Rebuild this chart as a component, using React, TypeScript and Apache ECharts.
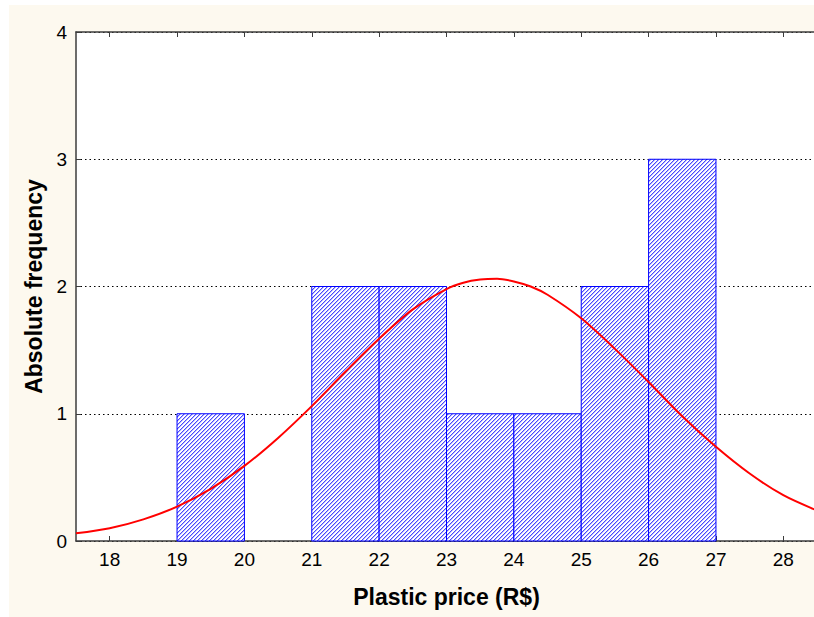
import React, { useEffect, useRef } from "react";
import * as echarts from "echarts";

// Histogram bins (lower edges) and counts
const binStarts = [19, 20, 21, 22, 23, 24, 25, 26];
const binWidth = 1;
const counts = [1, 0, 2, 2, 1, 1, 2, 3];

// Fitted normal curve
const curveX = [17.5, 18, 18.5, 19, 19.5, 20, 20.5, 21, 21.5, 22, 22.5, 23, 23.25, 23.5, 23.75, 24, 24.25, 24.5, 25, 25.5, 26, 26.5, 27, 27.5, 28, 28.5];
const curveY = [0.06, 0.1, 0.17, 0.27, 0.41, 0.59, 0.81, 1.06, 1.33, 1.59, 1.82, 1.98, 2.03, 2.055, 2.061, 2.04, 2.0, 1.935, 1.75, 1.51, 1.25, 0.98, 0.74, 0.53, 0.36, 0.24];

const xTicks = [18, 19, 20, 21, 22, 23, 24, 25, 26, 27, 28];
const yTicks = [0, 1, 2, 3, 4];

const FONT = "'Liberation Sans', Arial, sans-serif";
const AXIS_COLOR = "#3c3c3c";

function makeHatch() {
  const n = 4;
  const c = document.createElement("canvas");
  c.width = n;
  c.height = n;
  const ctx = c.getContext("2d")!;
  ctx.fillStyle = "#ffffff";
  ctx.fillRect(0, 0, n, n);
  for (let i = 0; i < n; i++) {
    ctx.fillStyle = "#4848ff";
    ctx.fillRect(i, (n - 1 - i + n) % n, 1, 1);
    ctx.fillStyle = "#b8b8ff";
    ctx.fillRect(i, (n - i + n) % n, 1, 1);
  }
  return c;
}

export default function App() {
  const ref = useRef<HTMLDivElement>(null);
  useEffect(() => {
    if (!ref.current) return;
    const chart = echarts.init(ref.current, null, { renderer: "svg" });
    const hatch = makeHatch();
    const histData = binStarts.map((s, i) => [s, s + binWidth, counts[i]]);
    const axisLine = { show: true, onZero: false, lineStyle: { color: AXIS_COLOR, width: 1.5 } };
    const xMin = xTicks[0] - 0.5;
    const xMax = xTicks[xTicks.length - 1] + 0.5;
    chart.setOption({
      animation: false,
      backgroundColor: "transparent",
      grid: { left: 67, top: 27, width: 741, height: 509, containLabel: false },
      xAxis: [
        {
          type: "value",
          min: xMin,
          max: xMax,
          position: "bottom",
          name: "Plastic price (R$)",
          nameLocation: "middle",
          nameGap: 44,
          nameTextStyle: { fontFamily: FONT, fontSize: 23, fontWeight: "bold", color: "#000" },
          axisLine,
          axisTick: { show: true, inside: true, length: 5, lineStyle: { color: AXIS_COLOR }, customValues: xTicks },
          axisLabel: {
            fontFamily: FONT,
            fontSize: 19,
            color: "#000",
            margin: 9,
            customValues: xTicks,
          },
          splitLine: { show: false },
        },
        {
          type: "value",
          min: xMin,
          max: xMax,
          position: "top",
          axisLine,
          axisTick: { show: true, inside: true, length: 5, lineStyle: { color: AXIS_COLOR }, customValues: xTicks },
          axisLabel: { show: false, customValues: xTicks },
          splitLine: { show: false },
        },
      ],
      yAxis: [
        {
          type: "value",
          min: yTicks[0],
          max: yTicks[yTicks.length - 1],
          interval: 1,
          position: "left",
          name: "Absolute frequency",
          nameLocation: "middle",
          nameGap: 31,
          nameTextStyle: { fontFamily: FONT, fontSize: 23, fontWeight: "bold", color: "#000" },
          axisLine,
          axisTick: { show: true, inside: true, length: 5, lineStyle: { color: AXIS_COLOR } },
          axisLabel: { fontFamily: FONT, fontSize: 19, color: "#000", margin: 9 },
          splitLine: { show: true, lineStyle: { color: "#000", type: [1.5, 3], width: 1.2 } },
        },
        {
          type: "value",
          min: yTicks[0],
          max: yTicks[yTicks.length - 1],
          interval: 1,
          position: "right",
          axisLine,
          axisTick: { show: false },
          axisLabel: { show: false },
          splitLine: { show: false },
        },
      ],
      series: [
        {
          type: "custom",
          xAxisIndex: 0,
          yAxisIndex: 0,
          data: histData,
          z: 2,
          renderItem: (params: any, api: any) => {
            const lo = api.value(0);
            const hi = api.value(1);
            const c = api.value(2);
            if (!c) return null;
            const p1 = api.coord([lo, c]);
            const p2 = api.coord([hi, 0]);
            return {
              type: "rect",
              shape: { x: p1[0], y: p1[1], width: p2[0] - p1[0], height: p2[1] - p1[1] },
              style: { fill: { image: hatch, repeat: "repeat" } as any, stroke: "#0000ff", lineWidth: 1 },
            };
          },
        },
        {
          type: "line",
          xAxisIndex: 0,
          yAxisIndex: 0,
          data: curveX.map((x, i) => [x, curveY[i]]),
          smooth: 0.3,
          symbol: "none",
          z: 5,
          lineStyle: { color: "#ff0000", width: 2 },
        },
      ],
    });
    return () => chart.dispose();
  }, []);
  return (
    <div
      style={{
        position: "absolute",
        left: 9,
        top: 5,
        width: 805,
        height: 612,
        overflow: "hidden",
        background: "#fdf9ef",
      }}
    >
      <div
        style={{
          position: "absolute",
          left: 67,
          top: 27,
          width: 741,
          height: 509,
          background: "#ffffff",
        }}
      />
      <div ref={ref} style={{ position: "absolute", left: 0, top: 0, width: 830, height: 612 }} />
    </div>
  );
}
